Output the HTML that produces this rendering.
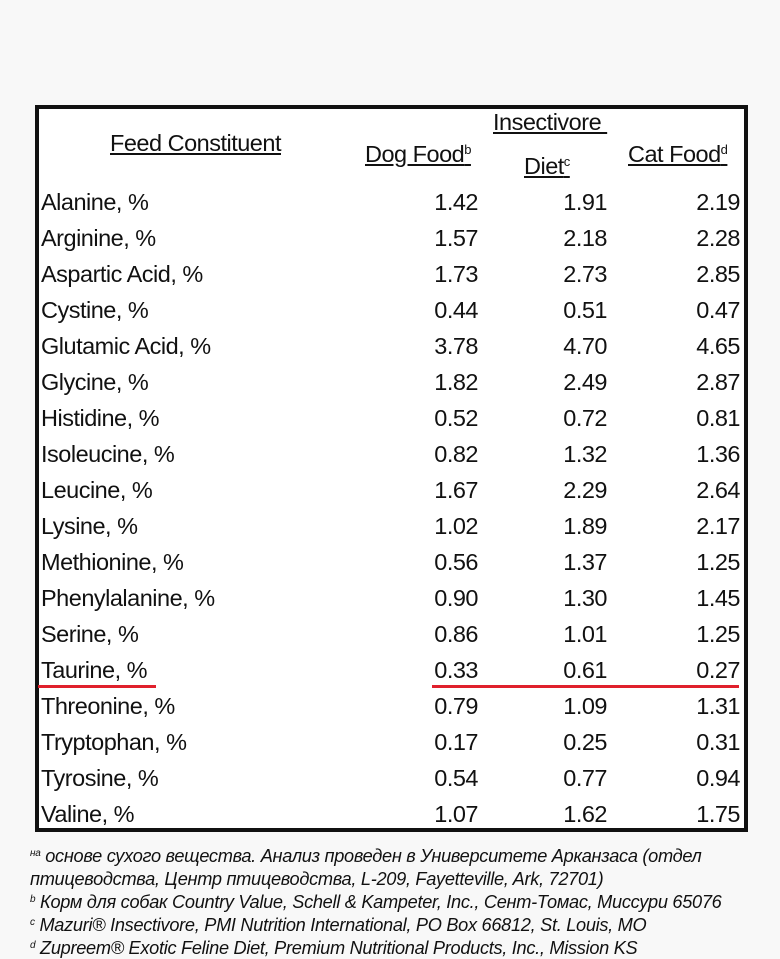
<!DOCTYPE html>
<html><head><meta charset="utf-8"><style>
body{margin:0;width:780px;height:959px;background:#f8f8f8;position:relative;overflow:hidden;font-family:"Liberation Sans Narrow","Liberation Sans",sans-serif;color:#111}
.box{position:absolute;left:35px;top:105px;width:705px;height:719px;border:4px solid #111;background:#fff}
.t{position:absolute;font-size:23.5px;line-height:26px;white-space:nowrap;letter-spacing:-0.5px}
.r{text-align:right}
.h{text-decoration:underline}
sup{font-size:13px;vertical-align:8px}
.f{position:absolute;left:30px;font-size:18.2px;font-style:italic;white-space:nowrap;letter-spacing:-0.3px}
.red{position:absolute;height:3px;background:#e0202c}
</style></head><body>
<div class="box"></div>
<div class="t h" style="left:110px;top:130px">Feed Constituent</div>
<div class="t h" style="left:365px;top:137px">Dog Food<sup>b</sup></div>
<div class="t h" style="left:493px;top:109px">Insectivore&nbsp;</div>
<div class="t h" style="left:524px;top:149px">Diet<sup>c</sup></div>
<div class="t h" style="left:628px;top:137px">Cat Food<sup>d</sup></div>
<div id="rows"></div>
<div class="red" style="left:38px;top:685px;width:118px"></div>
<div class="red" style="left:432px;top:685px;width:307px"></div>
<div class="f" style="top:846px"><sup style="font-size:10px;vertical-align:6px">на</sup> основе сухого вещества. Анализ проведен в Университете Арканзаса (отдел</div>
<div class="f" style="top:869px">птицеводства, Центр птицеводства, L-209, Fayetteville, Ark, 72701)</div>
<div class="f" style="top:892px"><sup style="font-size:10px;vertical-align:6px">b</sup> Корм для собак Country Value, Schell &amp; Kampeter, Inc., Сент-Томас, Миссури 65076</div>
<div class="f" style="top:915px"><sup style="font-size:10px;vertical-align:6px">c</sup> Mazuri® Insectivore, PMI Nutrition International, PO Box 66812, St. Louis, MO</div>
<div class="f" style="top:938px"><sup style="font-size:10px;vertical-align:6px">d</sup> Zupreem® Exotic Feline Diet, Premium Nutritional Products, Inc., Mission KS</div>
<script>
var d=[["Alanine, %","1.42","1.91","2.19"],["Arginine, %","1.57","2.18","2.28"],["Aspartic Acid, %","1.73","2.73","2.85"],["Cystine, %","0.44","0.51","0.47"],["Glutamic Acid, %","3.78","4.70","4.65"],["Glycine, %","1.82","2.49","2.87"],["Histidine, %","0.52","0.72","0.81"],["Isoleucine, %","0.82","1.32","1.36"],["Leucine, %","1.67","2.29","2.64"],["Lysine, %","1.02","1.89","2.17"],["Methionine, %","0.56","1.37","1.25"],["Phenylalanine, %","0.90","1.30","1.45"],["Serine, %","0.86","1.01","1.25"],["Taurine, %","0.33","0.61","0.27"],["Threonine, %","0.79","1.09","1.31"],["Tryptophan, %","0.17","0.25","0.31"],["Tyrosine, %","0.54","0.77","0.94"],["Valine, %","1.07","1.62","1.75"]];
var h="";d.forEach(function(r,i){var y=189+i*36;
h+='<div class="t" style="left:41px;top:'+y+'px">'+r[0]+'</div>';
h+='<div class="t r" style="right:302px;top:'+y+'px">'+r[1]+'</div>';
h+='<div class="t r" style="right:173px;top:'+y+'px">'+r[2]+'</div>';
h+='<div class="t r" style="right:40px;top:'+y+'px">'+r[3]+'</div>';});
document.getElementById("rows").innerHTML=h;
</script>
</body></html>
